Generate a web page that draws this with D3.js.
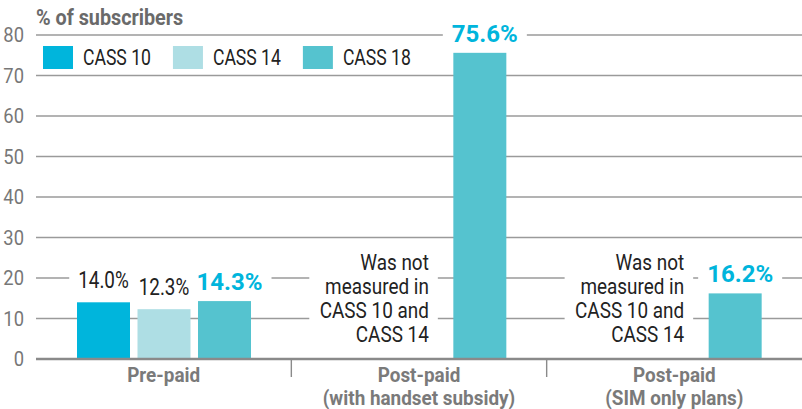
<!DOCTYPE html>
<html>
<head>
<meta charset="utf-8">
<script src="https://cdn.jsdelivr.net/npm/d3@7"></script>
<style>
  body { margin: 0; background: #fff; }
  svg text { font-family: "Roboto", "Liberation Sans", sans-serif; }
</style>
</head>
<body>
<svg id="chart" width="802" height="409"></svg>
<script>
// chart data
var categories = ["Pre-paid", "Post-paid\n(with handset subsidy)", "Post-paid\n(SIM only plans)"];
var seriesNames = ["CASS 10", "CASS 14", "CASS 18"];
var cass10 = [14.0, null, null];
var cass14 = [12.3, null, null];
var cass18 = [14.3, 75.6, 16.2];
var yTicks = [0, 10, 20, 30, 40, 50, 60, 70, 80];
var notMeasuredNote = ["Was not", "measured in", "CASS 10 and", "CASS 14"];
var colors = ["#00b5dc", "#aedee4", "#55c3cf"];

var svg = d3.select("#chart");
var plotLeft = 36, plotRight = 802, plotTop = 35, plotBottom = 359;

var x0 = d3.scaleBand().domain(categories).range([plotLeft, plotRight]).padding(0);
var x1 = d3.scaleBand().domain(seriesNames).range([41, 215]).paddingInner(0.124).paddingOuter(0);
var y = d3.scaleLinear().domain([0, 80]).range([plotBottom, plotTop]);

// squeeze text horizontally around its anchor x (reference uses a condensed face)
var condense = function(text, ax, k) {
    text.attr("transform", "translate(" + ax + ",0) scale(" + k + ",1) translate(" + (-ax) + ",0)");
};

var values = [cass10, cass14, cass18];
var rows = [];
categories.forEach(function(c, i) {
    seriesNames.forEach(function(s, j) {
        rows.push({cat: c, series: s, idx: j, value: values[j][i]});
    });
});

// gridlines
svg.append("g").attr("class", "grid")
    .selectAll("line")
    .data(yTicks.filter(function(t) { return t > 0; }))
    .enter().append("line")
        .attr("x1", plotLeft).attr("x2", plotRight)
        .attr("y1", function(d) { return y(d); })
        .attr("y2", function(d) { return y(d); })
        .attr("stroke", "#9a9a9a")
        .attr("stroke-width", 1.4);

// y tick labels
svg.append("g").selectAll("text")
    .data(yTicks)
    .enter().append("text")
        .attr("x", 24)
        .attr("y", function(d) { return y(d); })
        .attr("dy", "0.36em")
        .attr("text-anchor", "end")
        .attr("font-size", 20)
        .attr("fill", "#777")
        .text(function(d) { return d; })
        .each(function() { condense(d3.select(this), 24, 0.92); });

// title
var title = svg.append("text")
    .attr("x", plotLeft).attr("y", 25)
    .attr("font-size", 22)
    .attr("font-weight", "bold")
    .attr("fill", "#6a6a6a")
    .text("% of subscribers");
condense(title, plotLeft, 0.9);

// legend
var legend = svg.append("g").attr("class", "legend");
var lx = 43;
var k = 0.8;
seriesNames.forEach(function(s, i) {
    legend.append("rect")
        .attr("x", lx).attr("y", 46)
        .attr("width", 30).attr("height", 23)
        .attr("fill", colors[i]);
    var t = legend.append("text")
        .attr("x", lx + 40).attr("y", 65)
        .attr("font-size", 22)
        .attr("fill", "#222")
        .text(s);
    condense(t, lx + 40, k);
    lx = lx + 40 + t.node().getComputedTextLength() * k + 22;
});

// bars
var bars = rows.filter(function(d) { return d.value != null; });
svg.append("g").selectAll("rect")
    .data(bars)
    .enter().append("rect")
        .attr("x", function(d) { return x0(d.cat) + x1(d.series); })
        .attr("y", function(d) { return y(d.value); })
        .attr("width", x1.bandwidth())
        .attr("height", function(d) { return y(0) - y(d.value); })
        .attr("fill", function(d) { return colors[d.idx]; });

// value labels with white boxes
var labelG = svg.append("g");
bars.forEach(function(d) {
    var hi = d.series === "CASS 18";
    var cx = x0(d.cat) + x1(d.series) + x1.bandwidth() / 2 + (hi ? 5 : 0);
    var sx = hi ? 1 : 0.82;
    var t = labelG.append("text")
        .attr("x", cx)
        .attr("y", y(d.value) - (hi ? 11 : 14))
        .attr("text-anchor", "middle")
        .attr("font-size", hi ? 24 : 23)
        .attr("font-weight", hi ? "bold" : "normal")
        .attr("fill", hi ? "#00b5dc" : "#222")
        .text(d.value.toFixed(1) + "%");
    condense(t, cx, sx);
    var b = t.node().getBBox();
    var w = b.width * sx;
    labelG.insert("rect", "text")
        .attr("x", cx - w / 2 - 9).attr("y", b.y)
        .attr("width", w + 18).attr("height", b.height)
        .attr("fill", "#fff");
});

// "not measured" notes
categories.slice(1).forEach(function(c) {
    var g = svg.append("g");
    var xr = x0(c) + x1("CASS 14") + x1.bandwidth() - 17;
    var t = g.append("text")
        .attr("text-anchor", "end")
        .attr("font-size", 22)
        .attr("fill", "#222");
    notMeasuredNote.forEach(function(line, i) {
        t.append("tspan")
            .attr("x", xr)
            .attr("y", y(0) - 17 - (notMeasuredNote.length - 1 - i) * 24)
            .text(line);
    });
    condense(t, xr, 0.86);
    var b = t.node().getBBox();
    var w = b.width * 0.86;
    g.insert("rect", "text")
        .attr("x", xr - w - 10).attr("y", b.y)
        .attr("width", w + 19).attr("height", b.height)
        .attr("fill", "#fff");
});

// baseline and category dividers
svg.append("line")
    .attr("x1", plotLeft).attr("x2", plotRight)
    .attr("y1", y(0)).attr("y2", y(0))
    .attr("stroke", "#8a8a8a")
    .attr("stroke-width", 2.5);

svg.append("g").selectAll("line")
    .data(categories.slice(1))
    .enter().append("line")
        .attr("x1", function(d) { return x0(d); })
        .attr("x2", function(d) { return x0(d); })
        .attr("y1", y(0)).attr("y2", y(0) + 18)
        .attr("stroke", "#8a8a8a")
        .attr("stroke-width", 1.4);

// category labels
svg.append("g").selectAll("text")
    .data(categories)
    .enter().append("text")
        .attr("text-anchor", "middle")
        .attr("font-size", 21)
        .attr("font-weight", "bold")
        .attr("fill", "#7a7a7a")
        .each(function(d) {
            var t = d3.select(this);
            var cx = x0(d) + x0.bandwidth() / 2;
            d.split("\n").forEach(function(line, i) {
                t.append("tspan")
                    .attr("x", cx)
                    .attr("y", 382 + i * 23)
                    .text(line);
            });
            condense(t, cx, 0.9);
        });
</script>
</body>
</html>
